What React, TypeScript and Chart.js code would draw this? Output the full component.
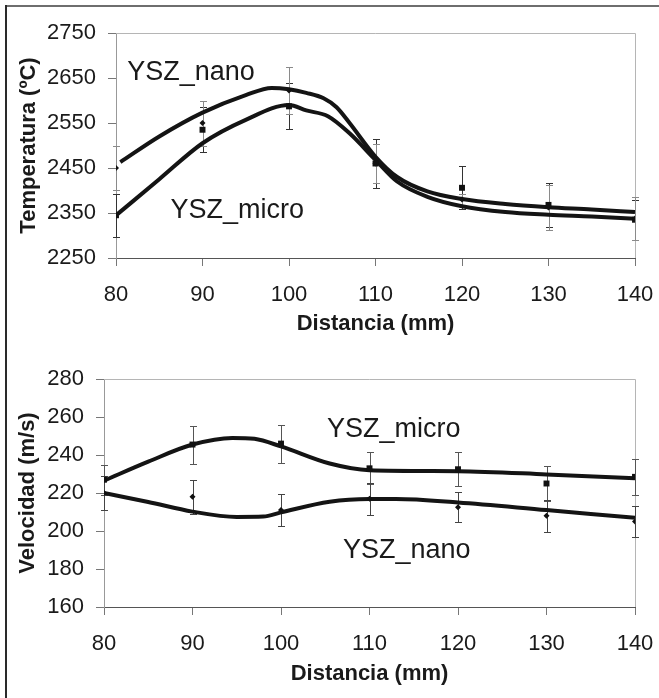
import React, { useEffect, useRef } from "react";
import { Chart, registerables } from "chart.js";

Chart.register(...registerables);

const FONT = "'Liberation Sans', Arial, sans-serif";

// ---------- shared x ----------
const distances = [80, 90, 100, 110, 120, 130, 140];
const xTickStep = 10;

// ---------- Temperature chart ----------
const tempNano = [2450, 2550, 2622, 2460, 2380, 2362, 2338];
const tempNanoErr = [48, 50, 53, 43, 12, 50, 47];
const tempMicro = [2345, 2535, 2587, 2460, 2406, 2368, 2335];
const tempMicroErr = [48, 50, 51, 54, 48, 48, 45];

const tempNanoCurveX = [80.5, 85, 90, 95, 98, 100, 102, 104, 105.5, 107, 110, 112.5, 116, 120, 125, 130, 135, 140];
const tempNanoCurveY = [2463, 2520, 2573, 2612, 2628, 2625, 2617, 2605, 2585, 2550, 2475, 2430, 2398, 2381, 2370, 2363, 2358, 2352];
const tempMicroCurveX = [80.2, 85, 90, 95, 100, 102, 104.5, 107, 110, 112.5, 116, 120, 125, 130, 135, 140];
const tempMicroCurveY = [2348, 2425, 2505, 2557, 2590, 2578, 2565, 2527, 2468, 2420, 2386, 2365, 2352, 2346, 2342, 2337];

const tempMin = 2250;
const tempMax = 2750;
const tempStep = 100;

// ---------- Velocity chart ----------
const velNano = [220, 218, 211, 217, 212.5, 208, 205];
const velNanoErr = [9, 9, 8.5, 8.5, 8, 8.5, 8];
const velMicro = [227, 245.5, 246, 233, 232.5, 225, 228.5];
const velMicroErr = [8, 10, 10, 8.5, 9, 9, 9.5];

const velNanoCurveX = [80, 85, 90, 95, 98, 100, 105.5, 110, 113, 120, 130, 140];
const velNanoCurveY = [220, 215.3, 210.2, 207.4, 207.6, 209.8, 215.4, 216.8, 216.8, 215, 211, 207];
const velMicroCurveX = [80, 85, 90, 94.5, 97, 100, 105.5, 110, 120, 130, 140];
const velMicroCurveY = [226.5, 236.5, 245.5, 249, 248.5, 244.5, 235.5, 232, 231.5, 229.8, 227.7];

const velMin = 160;
const velMax = 280;
const velStep = 20;

// ---------- text ----------
const xTitle = "Distancia (mm)";
const tempTitle = "Temperatura (ºC)";
const velTitle = "Velocidad (m/s)";
const nanoLabel = "YSZ_nano";
const microLabel = "YSZ_micro";

const toPoints = (xs: number[], ys: number[]) => xs.map((x, i) => ({ x, y: ys[i] }));

type Note = { text: string; x: number; y: number };

function makeConfig(opts: {
  nano: number[];
  nanoErr: number[];
  micro: number[];
  microErr: number[];
  nanoCurve: { x: number; y: number }[];
  microCurve: { x: number; y: number }[];
  yMin: number;
  yMax: number;
  yStep: number;
  yTitle: string;
  yWidth: number;
  xHeight: number;
  padTop: number;
  yTitlePad: number;
  xTitlePadBottom: number;
  nanoErrColor: string;
  microErrColor: string;
  notes: Note[];
}): any {
  const errorBars = {
    id: "errorBars",
    beforeDatasetsDraw(chart: any) {
      const { ctx, scales } = chart;
      const xs = scales.x;
      const ys = scales.y;
      ctx.save();
      chart.data.datasets.forEach((ds: any) => {
        if (!ds.errors) return;
        ctx.strokeStyle = ds.errorColor;
        ctx.lineWidth = 1;
        ds.data.forEach((p: any, i: number) => {
          const e = ds.errors[i];
          const px = Math.round(xs.getPixelForValue(p.x)) + 0.5;
          const t = Math.round(ys.getPixelForValue(p.y + e)) + 0.5;
          const b = Math.round(ys.getPixelForValue(p.y - e)) + 0.5;
          ctx.beginPath();
          ctx.moveTo(px, t);
          ctx.lineTo(px, b);
          ctx.moveTo(px - 3.5, t);
          ctx.lineTo(px + 3.5, t);
          ctx.moveTo(px - 3.5, b);
          ctx.lineTo(px + 3.5, b);
          ctx.stroke();
        });
      });
      ctx.restore();
    },
  };

  const frame = {
    id: "frame",
    beforeDatasetsDraw(chart: any) {
      const { ctx, chartArea } = chart;
      ctx.save();
      ctx.strokeStyle = "#b5b5b5";
      ctx.lineWidth = 1;
      ctx.beginPath();
      ctx.moveTo(chartArea.left, chartArea.top + 0.5);
      ctx.lineTo(chartArea.right + 0.5, chartArea.top + 0.5);
      ctx.lineTo(chartArea.right + 0.5, chartArea.bottom);
      ctx.stroke();
      ctx.restore();
    },
  };

  const notes = {
    id: "notes",
    afterDatasetsDraw(chart: any) {
      const { ctx, scales } = chart;
      ctx.save();
      ctx.fillStyle = "#1a1a1a";
      ctx.font = `27px ${FONT}`;
      ctx.textAlign = "left";
      ctx.textBaseline = "middle";
      opts.notes.forEach((n) => {
        ctx.fillText(n.text, scales.x.getPixelForValue(n.x), scales.y.getPixelForValue(n.y));
      });
      ctx.restore();
    },
  };

  return {
    type: "scatter",
    data: {
      datasets: [
        {
          label: microLabel,
          data: toPoints(distances, opts.micro),
          errors: opts.microErr,
          errorColor: opts.microErrColor,
          pointStyle: "rect",
          pointRadius: 4.2,
          backgroundColor: "#111",
          borderColor: "#111",
          borderWidth: 0,
          showLine: false,
        },
        {
          label: nanoLabel,
          data: toPoints(distances, opts.nano),
          errors: opts.nanoErr,
          errorColor: opts.nanoErrColor,
          pointStyle: "rectRot",
          pointRadius: 3,
          backgroundColor: "#111",
          borderColor: "#111",
          borderWidth: 0,
          showLine: false,
        },
        {
          type: "line",
          label: nanoLabel + " curve",
          data: opts.nanoCurve,
          borderColor: "#141414",
          borderWidth: 4,
          pointRadius: 0,
          fill: false,
          cubicInterpolationMode: "monotone",
          borderCapStyle: "butt",
        },
        {
          type: "line",
          label: microLabel + " curve",
          data: opts.microCurve,
          borderColor: "#141414",
          borderWidth: 4,
          pointRadius: 0,
          fill: false,
          cubicInterpolationMode: "monotone",
          borderCapStyle: "butt",
        },
      ],
    },
    options: {
      responsive: false,
      animation: false,
      events: [],
      layout: { padding: { top: opts.padTop, right: 24, left: 0, bottom: 0 } },
      plugins: {
        legend: { display: false },
        tooltip: { enabled: false },
      },
      scales: {
        x: {
          type: "linear",
          min: 80,
          max: 140,
          afterFit: (s: any) => {
            s.height = opts.xHeight;
            s.paddingLeft = 0;
            s.paddingRight = 0;
          },
          ticks: {
            stepSize: xTickStep,
            color: "#1a1a1a",
            font: { family: FONT, size: 22 },
            padding: 16,
            maxRotation: 0,
            callback: (v: any) => String(v),
          },
          grid: {
            display: true,
            drawOnChartArea: false,
            drawTicks: true,
            tickLength: 8,
            color: "#777",
          },
          border: { display: true, color: "#555", width: 1 },
          title: {
            display: true,
            text: xTitle,
            color: "#1a1a1a",
            font: { family: FONT, size: 22, weight: "bold" },
            padding: { top: 0, bottom: opts.xTitlePadBottom },
          },
        },
        y: {
          type: "linear",
          min: opts.yMin,
          max: opts.yMax,
          afterFit: (s: any) => {
            s.width = opts.yWidth;
            s.paddingTop = 0;
            s.paddingBottom = 0;
          },
          ticks: {
            stepSize: opts.yStep,
            color: "#1a1a1a",
            font: { family: FONT, size: 22 },
            padding: 12,
            callback: (v: any) => String(v),
          },
          grid: {
            display: true,
            drawOnChartArea: false,
            drawTicks: true,
            tickLength: 8,
            color: "#777",
          },
          border: { display: true, color: "#999", width: 1 },
          title: {
            display: true,
            text: opts.yTitle,
            color: "#1a1a1a",
            font: { family: FONT, size: 22, weight: "bold" },
            padding: { top: opts.yTitlePad, bottom: 0 },
          },
        },
      },
    },
    plugins: [frame, errorBars, notes],
  };
}

function ChartCanvas({ config, top, height }: { config: any; top: number; height: number }) {
  const ref = useRef<HTMLCanvasElement | null>(null);
  useEffect(() => {
    if (!ref.current) return;
    const chart = new Chart(ref.current, config);
    return () => chart.destroy();
  }, [config]);
  return (
    <canvas
      ref={ref}
      width={659}
      height={height}
      style={{ position: "absolute", left: 0, top, width: 659, height, display: "block" }}
    />
  );
}

const tempConfig = makeConfig({
  nano: tempNano,
  nanoErr: tempNanoErr,
  micro: tempMicro,
  microErr: tempMicroErr,
  nanoCurve: toPoints(tempNanoCurveX, tempNanoCurveY),
  microCurve: toPoints(tempMicroCurveX, tempMicroCurveY),
  yMin: tempMin,
  yMax: tempMax,
  yStep: tempStep,
  yTitle: tempTitle,
  yWidth: 116,
  xHeight: 82,
  padTop: 33,
  yTitlePad: 16,
  xTitlePadBottom: 3,
  nanoErrColor: "#8a8a8a",
  microErrColor: "#333",
  notes: [
    { text: nanoLabel, x: 81.3, y: 2663 },
    { text: microLabel, x: 86.3, y: 2355 },
  ],
});

const velConfig = makeConfig({
  nano: velNano,
  nanoErr: velNanoErr,
  micro: velMicro,
  microErr: velMicroErr,
  nanoCurve: toPoints(velNanoCurveX, velNanoCurveY),
  microCurve: toPoints(velMicroCurveX, velMicroCurveY),
  yMin: velMin,
  yMax: velMax,
  yStep: velStep,
  yTitle: velTitle,
  yWidth: 104,
  xHeight: 91,
  padTop: 39,
  yTitlePad: 15,
  xTitlePadBottom: 11,
  nanoErrColor: "#444",
  microErrColor: "#555",
  notes: [
    { text: microLabel, x: 105.2, y: 253.5 },
    { text: nanoLabel, x: 107.0, y: 189.5 },
  ],
});

export default function App() {
  return (
    <div
      style={{
        position: "fixed",
        left: 0,
        top: 0,
        width: 659,
        height: 698,
        background: "#fff",
        overflow: "hidden",
      }}
    >
      <ChartCanvas config={tempConfig} top={0} height={340} />
      <ChartCanvas config={velConfig} top={340} height={358} />
      <div style={{ position: "absolute", left: 5, top: 5, width: 654, height: 2, background: "#6e6e6e" }} />
      <div style={{ position: "absolute", left: 5, top: 5, width: 2, height: 693, background: "#2a2a2a" }} />
    </div>
  );
}
